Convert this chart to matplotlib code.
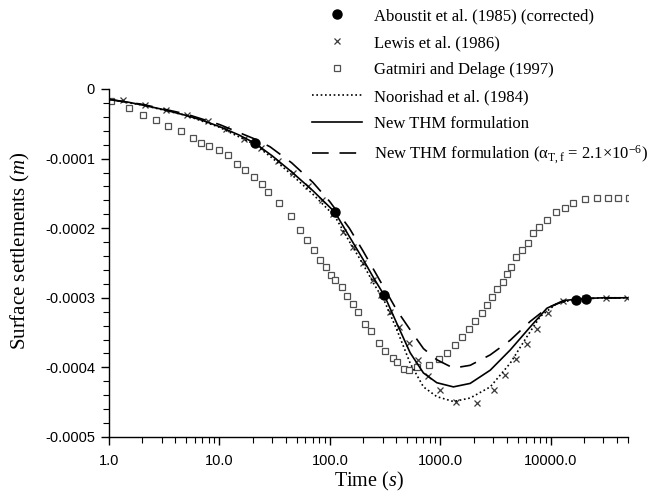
import matplotlib
matplotlib.use("Agg")
import matplotlib.pyplot as plt
from matplotlib.ticker import MultipleLocator, FixedLocator, FixedFormatter, LogLocator, NullFormatter

plt.rcParams['mathtext.fontset'] = 'custom'
plt.rcParams['mathtext.rm'] = 'Liberation Serif'
plt.rcParams['mathtext.it'] = 'Liberation Serif:italic'
plt.rcParams['axes.unicode_minus'] = False

# Aboustit et al. (1985) corrected
t_aboustit = [21, 111, 312, 17000, 21000]
u_aboustit = [-7.8e-5, -1.765e-4, -2.96e-4, -3.03e-4, -3.02e-4]

# Lewis et al. (1986)
t_lewis = [1.35, 2.12, 3.28, 5.1, 7.8, 11.4, 16.7, 24, 34, 46.7, 63.8, 84.3, 107,
           132, 163, 201, 248, 289, 351, 418, 515, 634, 780, 995, 1390, 2140,
           3030, 3860, 4860, 6070, 7470, 9530, 13000, 20300, 31600, 49400]
u_lewis = [-1.63e-5, -2.25e-5, -2.97e-5, -3.79e-5, -4.65e-5, -5.76e-5, -7.2e-5,
           -8.52e-5, -1.04e-4, -1.21e-4, -1.40e-4, -1.59e-4, -1.80e-4,
           -2.05e-4, -2.27e-4, -2.50e-4, -2.74e-4, -2.96e-4, -3.20e-4, -3.42e-4,
           -3.65e-4, -3.89e-4, -4.12e-4, -4.32e-4, -4.49e-4, -4.51e-4,
           -4.32e-4, -4.11e-4, -3.88e-4, -3.66e-4, -3.45e-4, -3.22e-4, -3.04e-4,
           -3.0e-4, -3.0e-4, -3.0e-4]

# Gatmiri and Delage (1997)
t_gatmiri = [1.05, 1.52, 2.04, 2.64, 3.42, 4.44, 5.8, 6.85, 8.1, 9.9, 11.9, 14.4,
             17.1, 20.6, 24.1, 27.7, 34.9, 44.2, 53.7, 62.5, 72.4, 81.5, 92.3,
             102, 111, 128, 142, 161, 181, 208, 234, 281, 316, 371, 403, 470,
             525, 621, 795, 975, 1160, 1360, 1565, 1800, 2070, 2380, 2640, 2930,
             3250, 3680, 3990, 4390, 4880, 5460, 6160, 6900, 7860, 9190, 11100,
             13500, 15900, 20300, 26400, 32800, 40800, 50700]
u_gatmiri = [-1.68e-5, -2.7e-5, -3.7e-5, -4.4e-5, -5.3e-5, -6.1e-5, -7.1e-5,
             -7.7e-5, -8.2e-5, -8.8e-5, -9.5e-5, -1.08e-4, -1.16e-4, -1.26e-4,
             -1.36e-4, -1.48e-4, -1.64e-4, -1.83e-4, -2.02e-4, -2.17e-4,
             -2.32e-4, -2.45e-4, -2.56e-4, -2.67e-4, -2.74e-4, -2.84e-4,
             -2.97e-4, -3.09e-4, -3.20e-4, -3.37e-4, -3.47e-4, -3.65e-4,
             -3.76e-4, -3.86e-4, -3.92e-4, -4.02e-4, -4.04e-4, -4.00e-4,
             -3.97e-4, -3.88e-4, -3.79e-4, -3.68e-4, -3.57e-4, -3.45e-4,
             -3.33e-4, -3.22e-4, -3.10e-4, -2.99e-4, -2.88e-4, -2.77e-4,
             -2.66e-4, -2.56e-4, -2.42e-4, -2.31e-4, -2.21e-4, -2.07e-4,
             -1.98e-4, -1.88e-4, -1.765e-4, -1.71e-4, -1.64e-4, -1.58e-4,
             -1.57e-4, -1.57e-4, -1.57e-4, -1.57e-4]

# Noorishad et al. (1984)
t_noor = [1, 2, 5, 10, 21, 30, 45, 70, 111, 150, 200, 250, 312, 404, 533, 703,
          929, 1312, 1862, 2830, 4290, 6070, 8010, 11350, 17000, 30000, 50000]
u_noor = [-1.5e-5, -2.3e-5, -3.8e-5, -5.5e-5, -8.0e-5, -9.9e-5, -1.23e-4,
          -1.51e-4, -1.83e-4, -2.19e-4, -2.52e-4, -2.80e-4, -3.05e-4, -3.46e-4,
          -3.94e-4, -4.28e-4, -4.42e-4, -4.49e-4, -4.44e-4, -4.28e-4, -3.94e-4,
          -3.56e-4, -3.27e-4, -3.08e-4, -3.02e-4, -3.0e-4, -3.0e-4]

# New THM formulation
t_thm = [1, 1.5, 2, 3, 5, 7, 10, 15, 21, 30, 45, 70, 111, 150, 200, 250, 312,
         404, 533, 703, 929, 1312, 1862, 2830, 4290, 6500, 9220, 13000, 19800,
         30000, 50000]
u_thm = [-1.5e-5, -1.9e-5, -2.3e-5, -2.9e-5, -3.8e-5, -4.5e-5, -5.4e-5, -6.6e-5,
         -7.8e-5, -9.6e-5, -1.19e-4, -1.46e-4, -1.77e-4, -2.12e-4, -2.45e-4,
         -2.72e-4, -2.97e-4, -3.37e-4, -3.79e-4, -4.08e-4, -4.22e-4, -4.28e-4,
         -4.23e-4, -4.04e-4, -3.75e-4, -3.42e-4, -3.15e-4, -3.04e-4, -3.01e-4,
         -3.0e-4, -3.0e-4]

# New THM formulation (alpha_T,f = 2.1e-6)
t_alpha = [1, 2, 5, 10, 21, 28.7, 45, 70, 100, 150, 200, 250, 305, 404, 533, 703,
           929, 1312, 1862, 2830, 4290, 6500, 9220, 13000, 20000, 50000]
u_alpha = [-1.5e-5, -2.2e-5, -3.6e-5, -5.1e-5, -7.2e-5, -8.3e-5, -1.06e-4,
           -1.34e-4, -1.62e-4, -2.0e-4, -2.33e-4, -2.60e-4, -2.84e-4, -3.18e-4,
           -3.46e-4, -3.73e-4, -3.89e-4, -4.01e-4, -3.97e-4, -3.82e-4, -3.61e-4,
           -3.34e-4, -3.15e-4, -3.05e-4, -3.01e-4, -3.0e-4]

x_ticks = [1, 10, 100, 1000, 10000]
x_ticklabels = ["1.0", "10.0", "100.0", "1000.0", "10000.0"]
y_ticks = [0, -0.0001, -0.0002, -0.0003, -0.0004, -0.0005]
y_ticklabels = ["0", "-0.0001", "-0.0002", "-0.0003", "-0.0004", "-0.0005"]

fig = plt.figure(figsize=(6.5, 4.92), dpi=100)
ax = fig.add_axes([109/650, 55/492, 519/650, 348/492])

ax.plot(t_aboustit, u_aboustit, 'o', color='black', ms=6.5, zorder=5,
        label='Aboustit et al. (1985) (corrected)')
ax.plot(t_lewis, u_lewis, 'x', color='#3a3a3a', ms=5, mew=0.9, zorder=3,
        label='Lewis et al. (1986)')
ax.plot(t_gatmiri, u_gatmiri, 's', mfc='white', mec='#505050', ms=5, mew=0.9,
        zorder=2, label='Gatmiri and Delage (1997)')
ax.plot(t_noor, u_noor, color='black', lw=1.2, ls=(0, (1, 1.6)), zorder=4,
        label='Noorishad et al. (1984)')
ax.plot(t_thm, u_thm, color='black', lw=1.2, zorder=4, label='New THM formulation')
ax.plot(t_alpha, u_alpha, color='black', lw=1.2, ls=(0, (10, 6.5)), zorder=4,
        label='New THM formulation (α$_{\\mathrm{T,f}}$ = 2.1×10$^{-6}$)')

ax.set_xscale('log')
ax.set_xlim(1, 50000)
ax.set_ylim(-0.0005, 0)
ax.xaxis.set_major_locator(FixedLocator(x_ticks))
ax.xaxis.set_major_formatter(FixedFormatter(x_ticklabels))
ax.xaxis.set_minor_locator(LogLocator(base=10, subs=range(2, 10), numticks=20))
ax.xaxis.set_minor_formatter(NullFormatter())
ax.yaxis.set_major_locator(FixedLocator(y_ticks))
ax.yaxis.set_major_formatter(FixedFormatter(y_ticklabels))
ax.yaxis.set_minor_locator(MultipleLocator(0.00002))

for side in ['top', 'right']:
    ax.spines[side].set_visible(False)
for side in ['left', 'bottom']:
    ax.spines[side].set_linewidth(1.0)
ax.tick_params(which='major', direction='out', length=6, width=1.0,
               labelsize=10.5, pad=4)
ax.tick_params(axis='x', which='major', pad=6)
ax.tick_params(which='minor', direction='out', length=4, width=0.8)
for lab in ax.get_xticklabels() + ax.get_yticklabels():
    lab.set_family('Liberation Sans')

ax.set_xlabel('Time ($\\mathit{s}$)', family='Liberation Serif', fontsize=14.5)
ax.xaxis.set_label_coords(0.5, -0.095)
ax.set_ylabel('Surface settlements ($\\mathit{m}$)', family='Liberation Serif',
              fontsize=15)
ax.yaxis.set_label_coords(-0.148, 0.534)

leg = fig.legend(loc='upper left', bbox_to_anchor=(312/650, 1 - 8/492),
                 frameon=False, handlelength=3.0, handletextpad=0.75,
                 labelspacing=0.66, borderpad=0, borderaxespad=0,
                 prop={'family': 'Liberation Serif', 'size': 12})

fig.savefig('out.png', dpi=100)
